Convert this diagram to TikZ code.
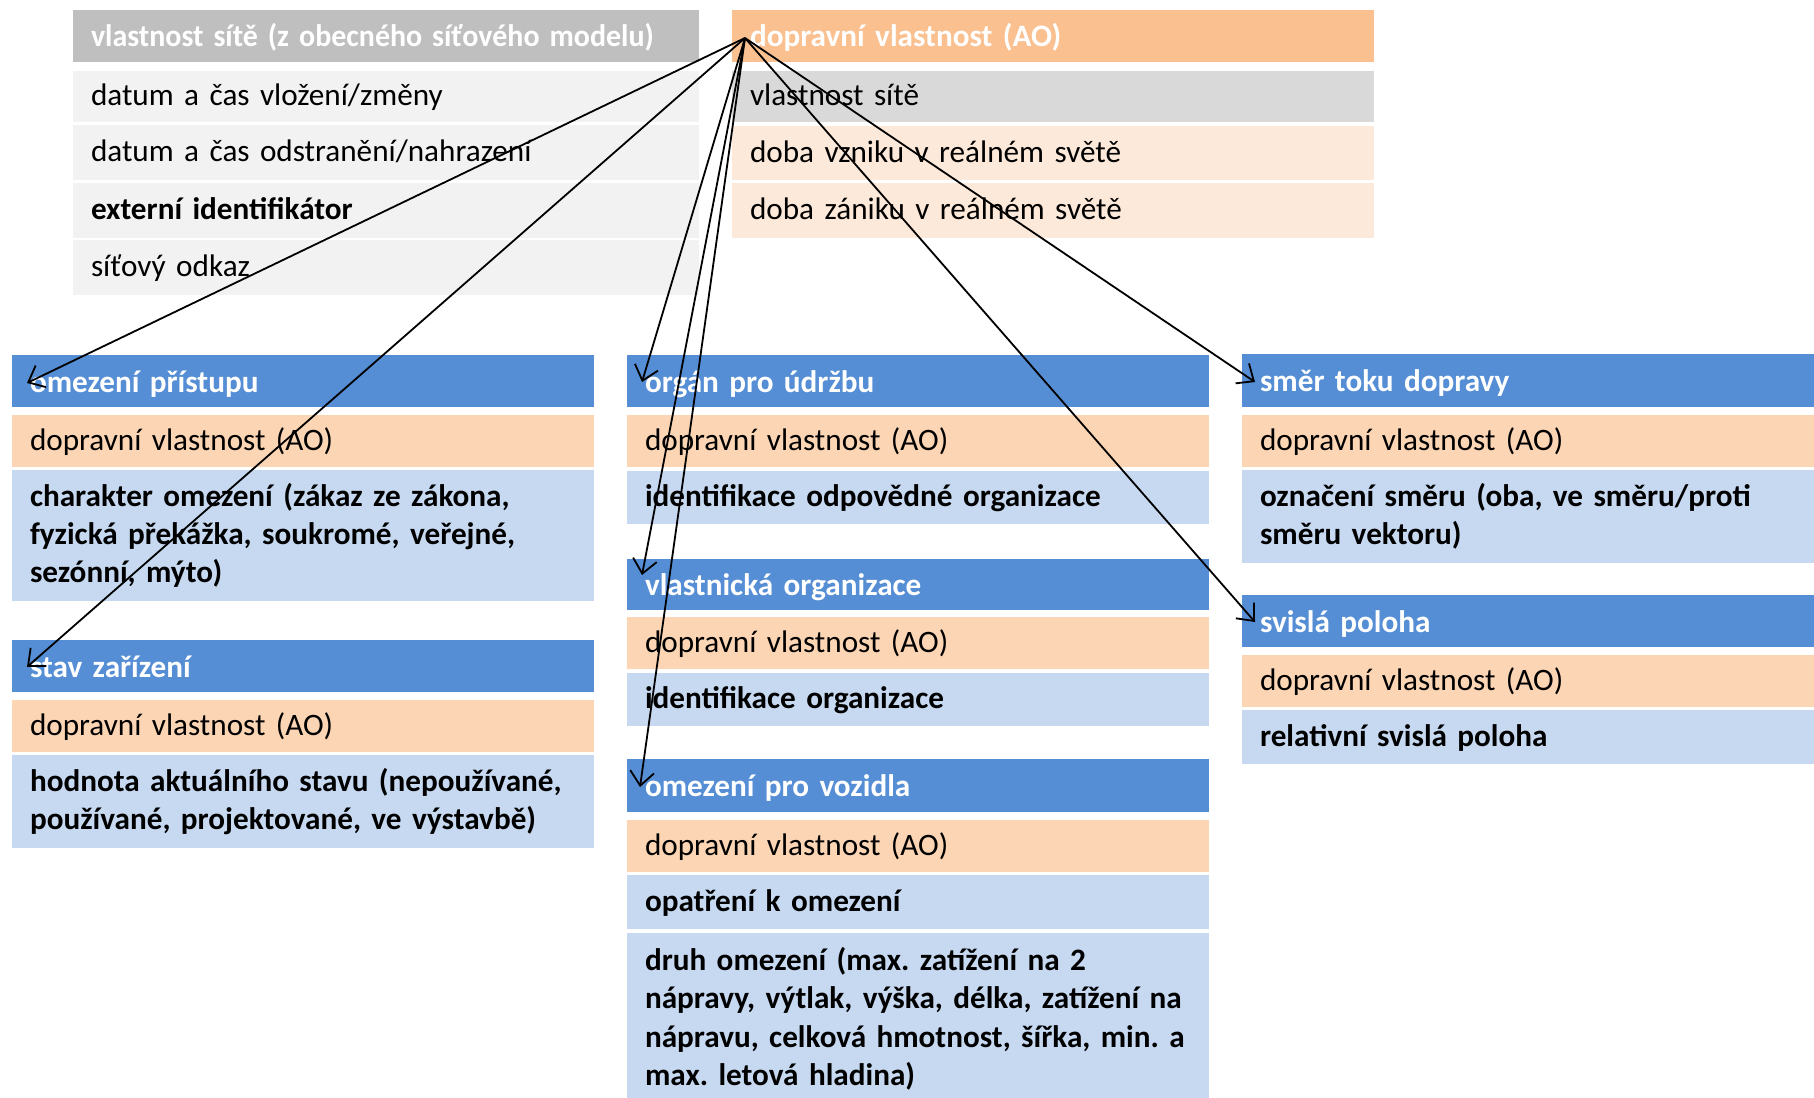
\documentclass[tikz,border=0pt]{standalone}
\usepackage{fontspec}
\setmainfont{Carlito}
\usetikzlibrary{arrows.meta}
\definecolor{greyhdr}{HTML}{BFBFBF}
\definecolor{greyrow}{HTML}{F2F2F2}
\definecolor{greymid}{HTML}{D9D9D9}
\definecolor{orghdr}{HTML}{FAC090}
\definecolor{orgpale}{HTML}{FDE9D9}
\definecolor{orgrow}{HTML}{FCD5B4}
\definecolor{bluehdr}{HTML}{558ED5}
\definecolor{bluerow}{HTML}{C6D9F1}
\newcommand\cfont{\fontsize{31.2}{38.3}\selectfont\frenchspacing}
\tikzset{
  cell/.style={anchor=north west, inner xsep=18pt, inner ysep=0pt, outer sep=0pt,
    align=left, text height=25pt, text depth=7pt, font=\cfont, text=black},
  hdrcell/.style={cell, text=white, font=\cfont\bfseries, text height=27pt, text depth=5pt},
  twolines/.style={text depth=45.3pt},
  threelines/.style={text depth=83.6pt},
  fourlines/.style={text depth=121.9pt},
  conn/.style={draw=black, line width=1.8pt, -{Straight Barb[length=14pt,width=24pt,line width=1.8pt]}},
}
\begin{document}
\begin{tikzpicture}[x=1pt,y=-1pt]
\useasboundingbox (0,0) rectangle (1814,1097);
\clip (0,0) rectangle (1814,1097);
% top left block
\node[hdrcell, fill=greyhdr, minimum height=52pt, text width=590pt] (g0) at (73,10) {\scalebox{0.96}[1]{vlastnost sítě (z obecného síťového modelu)}};
\node[cell, fill=greyrow, minimum height=51pt, text width=590pt] (g1) at (73,71) {datum a čas vložení/změny};
\node[cell, fill=greyrow, minimum height=55pt, text width=590pt] (g2) at (73,125) {datum a čas odstranění/nahrazení};
\node[cell, fill=greyrow, minimum height=55pt, text width=590pt, font=\cfont\bfseries] (g3) at (73,183) {externí identifikátor};
\node[cell, fill=greyrow, minimum height=55pt, text width=590pt] (g4) at (73,240) {síťový odkaz};
% top right block
\node[hdrcell, fill=orghdr, minimum height=52pt, text width=606pt] (o0) at (732,10) {dopravní vlastnost (AO)};
\node[cell, fill=greymid, minimum height=51pt, text width=606pt] (o1) at (732,71) {vlastnost sítě};
\node[cell, fill=orgpale, minimum height=54pt, text width=606pt] (o2) at (732,126) {doba vzniku v reálném světě};
\node[cell, fill=orgpale, minimum height=55pt, text width=606pt] (o3) at (732,183) {doba zániku v reálném světě};
% left column
\node[hdrcell, fill=bluehdr, minimum height=52pt, text width=546pt] (a0) at (12,355) {omezení přístupu};
\node[cell, fill=orgrow, minimum height=52pt, text width=546pt] (a1) at (12,415) {dopravní vlastnost (AO)};
\node[cell, threelines, fill=bluerow, minimum height=131pt, text width=546pt, font=\cfont\bfseries] (a2) at (12,470) {charakter omezení (zákaz ze zákona,\\ fyzická překážka, soukromé, veřejné,\\ sezónní, mýto)};
\node[hdrcell, fill=bluehdr, minimum height=52pt, text width=546pt] (b0) at (12,640) {stav zařízení};
\node[cell, fill=orgrow, minimum height=52pt, text width=546pt] (b1) at (12,700) {dopravní vlastnost (AO)};
\node[cell, twolines, fill=bluerow, minimum height=93pt, text width=546pt, font=\cfont\bfseries] (b2) at (12,755) {hodnota aktuálního stavu (nepoužívané,\\ používané, projektované, ve výstavbě)};
% middle column
\node[hdrcell, fill=bluehdr, minimum height=52pt, text width=546pt] (c0) at (627,355) {orgán pro údržbu};
\node[cell, fill=orgrow, minimum height=52pt, text width=546pt] (c1) at (627,415) {dopravní vlastnost (AO)};
\node[cell, fill=bluerow, minimum height=53pt, text width=546pt, font=\cfont\bfseries] (c2) at (627,471) {identifikace odpovědné organizace};
\node[hdrcell, fill=bluehdr, minimum height=51pt, text width=546pt] (d0) at (627,559) {vlastnická organizace};
\node[cell, fill=orgrow, minimum height=52pt, text width=546pt] (d1) at (627,617) {dopravní vlastnost (AO)};
\node[cell, fill=bluerow, minimum height=53pt, text width=546pt, font=\cfont\bfseries] (d2) at (627,673) {identifikace organizace};
\node[hdrcell, fill=bluehdr, minimum height=53pt, text width=546pt] (e0) at (627,759) {omezení pro vozidla};
\node[cell, fill=orgrow, minimum height=52pt, text width=546pt] (e1) at (627,820) {dopravní vlastnost (AO)};
\node[cell, fill=bluerow, minimum height=54pt, text width=546pt, font=\cfont\bfseries] (e2) at (627,875) {opatření k omezení};
\node[cell, fourlines, fill=bluerow, minimum height=172pt, text width=546pt, font=\cfont\bfseries] (e3) at (627,933) {druh omezení (max. zatížení na 2\\ nápravy, výtlak, výška, délka, zatížení na\\ nápravu, celková hmotnost, šířka, min.~a\\ max. letová hladina)};
% right column
\node[hdrcell, fill=bluehdr, minimum height=53pt, text width=546pt] (f0) at (1242,354) {směr toku dopravy};
\node[cell, fill=orgrow, minimum height=52pt, text width=546pt] (f1) at (1242,415) {dopravní vlastnost (AO)};
\node[cell, twolines, fill=bluerow, minimum height=93pt, text width=546pt, font=\cfont\bfseries] (f2) at (1242,470) {označení směru (oba, ve směru/proti\\ směru vektoru)};
\node[hdrcell, fill=bluehdr, minimum height=52pt, text width=546pt] (h0) at (1242,595) {svislá poloha};
\node[cell, fill=orgrow, minimum height=52pt, text width=546pt] (h1) at (1242,655) {dopravní vlastnost (AO)};
\node[cell, fill=bluerow, minimum height=54pt, text width=546pt, font=\cfont\bfseries] (h2) at (1242,710) {relativní svislá poloha};
% connectors
\coordinate (src) at (745,38);
\coordinate (ta) at (27,383);
\coordinate (tb) at (27,667);
\coordinate (tc) at (642,382);
\coordinate (td) at (642,575);
\coordinate (te) at (640,787);
\coordinate (tf) at (1255,382);
\coordinate (th) at (1255,622);
\draw[conn] (src) -- (ta);
\draw[conn] (src) -- (tb);
\draw[conn] (src) -- (tc);
\draw[conn] (src) -- (td);
\draw[conn] (src) -- (te);
\draw[conn] (src) -- (tf);
\draw[conn] (src) -- (th);
\end{tikzpicture}
\end{document}
